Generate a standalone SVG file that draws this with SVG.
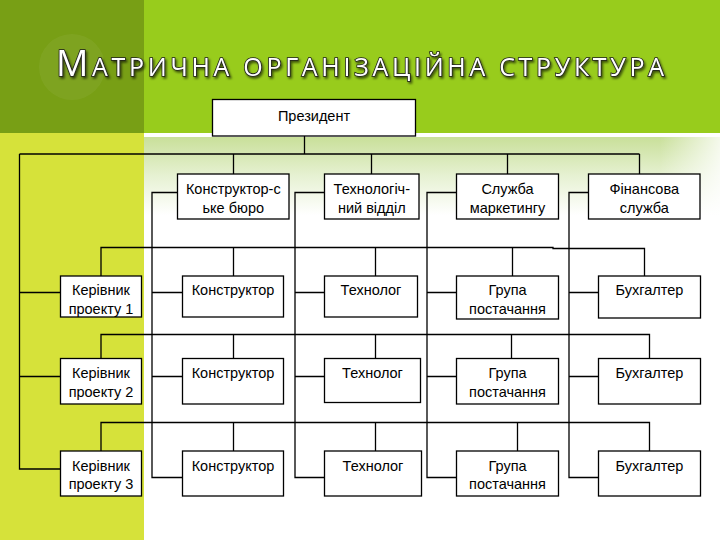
<svg xmlns="http://www.w3.org/2000/svg" width="720" height="540" viewBox="0 0 720 540">
<defs>
  <linearGradient id="bgGrad" x1="0" y1="136" x2="0" y2="215" gradientUnits="userSpaceOnUse">
    <stop offset="0" stop-color="#c8df98"/>
    <stop offset="0.5" stop-color="#e6f1d2"/>
    <stop offset="1" stop-color="#ffffff"/>
  </linearGradient>
  <linearGradient id="edgeGrad" x1="660" y1="0" x2="720" y2="0" gradientUnits="userSpaceOnUse">
    <stop offset="0" stop-color="#ffffff" stop-opacity="0"/>
    <stop offset="1" stop-color="#ffffff" stop-opacity="0.8"/>
  </linearGradient>
  <filter id="shadow" x="-5%" y="-30%" width="110%" height="160%">
    <feDropShadow dx="1.5" dy="2" stdDeviation="1.2" flood-color="#000000" flood-opacity="0.6"/>
  </filter>
  <style>
    .box { fill: #ffffff; stroke: #000000; stroke-width: 1.3; }
    .lbl { font-family: "Liberation Sans", Arial, sans-serif; font-size: 14.5px; fill: #000000; text-anchor: middle; }
    .conn { fill: none; stroke: #000000; stroke-width: 1.3; }
    .title { font-family: "Open Sans", "DejaVu Sans", sans-serif; fill: #ffffff; stroke: #1e1e1e; stroke-width: 1.6; paint-order: stroke; }
  </style>
</defs>

<!-- background -->
<g id="background">
  <rect x="0" y="0" width="144" height="133" fill="#789f15"/>
  <rect x="144" y="0" width="576" height="133" fill="#98cc1c"/>
  <circle cx="72" cy="67" r="33" fill="#ffffff" fill-opacity="0.05"/>
  <rect x="0" y="133" width="144" height="407" fill="#d6e23a"/>
  <rect x="144" y="133" width="576" height="4" fill="#ffffff"/>
  <rect x="144" y="137" width="576" height="403" fill="url(#bgGrad)"/>
  <rect x="660" y="137" width="60" height="80" fill="url(#edgeGrad)"/>
</g>

<g id="title" filter="url(#shadow)">
  <text class="title" x="56" y="76" textLength="608" lengthAdjust="spacing"><tspan font-size="36">М</tspan><tspan font-size="25">АТРИЧНА ОРГАНІЗАЦІЙНА СТРУКТУРА</tspan></text>
</g>

<!-- connectors -->
<g id="connectors" class="conn">
  <path d="M304.5 136 V154"/>
  <path d="M19.5 154 H639.5"/>
  <path d="M233.5 154 V174 M371.5 154 V174 M507.5 154 V174 M639.5 154 V174"/>
  <!-- president to project managers -->
  <path d="M19.5 154 V469 H60.5 M19.5 292.5 H60.5 M19.5 376.5 H60.5"/>
  <!-- department verticals -->
  <path d="M177.5 192.5 H152 V477.5 H182.5 M152 292.5 H182.5 M152 376.5 H182.5"/>
  <path d="M324.5 192.5 H295 V477.5 H324.5 M295 292.5 H324.5 M295 376.5 H324.5"/>
  <path d="M456.5 192.5 H427 V477.5 H456.5 M427 292.5 H456.5 M427 376.5 H456.5"/>
  <path d="M588.5 192.5 H569 V477.5 H598.5 M569 292.5 H598.5 M569 376.5 H598.5"/>
  <!-- project rows -->
  <path d="M101 276 V247.5 H553 V248.5 H644.5 V276 M233.5 247.5 V276 M375.5 247.5 V276 M512.5 247.5 V276"/>
  <path d="M101 358.5 V334.5 H649.5 V358.5 M233.5 334.5 V358.5 M375.5 334.5 V358.5 M511.5 334.5 V358.5"/>
  <path d="M101 451 V422.5 H649.5 V451 M233.5 422.5 V451 M375.5 422.5 V451 M517.5 422.5 V451"/>
</g>

<!-- nodes -->
<g id="president">
  <rect class="box" x="212.5" y="99.5" width="203" height="36.5"/>
  <text class="lbl" x="314" y="120.5">Президент</text>
</g>

<g id="dept-design">
  <rect class="box" x="177.5" y="174" width="111.5" height="45"/>
  <text class="lbl" x="233.3" y="193.5">Конструктор-с</text>
  <text class="lbl" x="233.3" y="212.5">ьке бюро</text>
</g>
<g id="dept-tech">
  <rect class="box" x="324.5" y="174" width="94.5" height="45"/>
  <text class="lbl" x="371.8" y="193.5">Технологіч-</text>
  <text class="lbl" x="371.8" y="212.5">ний відділ</text>
</g>
<g id="dept-marketing">
  <rect class="box" x="456.5" y="174" width="102" height="45"/>
  <text class="lbl" x="507.5" y="193.5">Служба</text>
  <text class="lbl" x="507.5" y="212.5">маркетингу</text>
</g>
<g id="dept-finance">
  <rect class="box" x="588.5" y="174" width="111.5" height="45"/>
  <text class="lbl" x="644.3" y="193.5">Фінансова</text>
  <text class="lbl" x="644.3" y="212.5">служба</text>
</g>

<!-- row 1 -->
<g id="pm1">
  <rect class="box" x="60.5" y="276" width="81" height="41"/>
  <text class="lbl" x="101" y="295">Керівник</text>
  <text class="lbl" x="101" y="313.5">проекту 1</text>
</g>
<g id="designer1">
  <rect class="box" x="182.5" y="276" width="101" height="41"/>
  <text class="lbl" x="233" y="295">Конструктор</text>
</g>
<g id="tech1">
  <rect class="box" x="324.5" y="276" width="93" height="41"/>
  <text class="lbl" x="371" y="295">Технолог</text>
</g>
<g id="supply1">
  <rect class="box" x="456.5" y="276" width="102" height="43"/>
  <text class="lbl" x="507.5" y="295">Група</text>
  <text class="lbl" x="507.5" y="313.5">постачання</text>
</g>
<g id="accountant1">
  <rect class="box" x="598.5" y="276" width="102" height="42"/>
  <text class="lbl" x="649.5" y="295">Бухгалтер</text>
</g>

<!-- row 2 -->
<g id="pm2">
  <rect class="box" x="60.5" y="358.5" width="81" height="45.5"/>
  <text class="lbl" x="101" y="378">Керівник</text>
  <text class="lbl" x="101" y="396.5">проекту 2</text>
</g>
<g id="designer2">
  <rect class="box" x="182.5" y="358.5" width="101" height="45.5"/>
  <text class="lbl" x="233" y="378">Конструктор</text>
</g>
<g id="tech2">
  <rect class="box" x="324.5" y="358.5" width="96" height="44"/>
  <text class="lbl" x="372.5" y="378">Технолог</text>
</g>
<g id="supply2">
  <rect class="box" x="456.5" y="358.5" width="102" height="45.5"/>
  <text class="lbl" x="507.5" y="378">Група</text>
  <text class="lbl" x="507.5" y="396.5">постачання</text>
</g>
<g id="accountant2">
  <rect class="box" x="598.5" y="358.5" width="102" height="45.5"/>
  <text class="lbl" x="649.5" y="378">Бухгалтер</text>
</g>

<!-- row 3 -->
<g id="pm3">
  <rect class="box" x="60.5" y="451" width="81" height="45"/>
  <text class="lbl" x="101" y="470.5">Керівник</text>
  <text class="lbl" x="101" y="489">проекту 3</text>
</g>
<g id="designer3">
  <rect class="box" x="182.5" y="451" width="101" height="45"/>
  <text class="lbl" x="233" y="470.5">Конструктор</text>
</g>
<g id="tech3">
  <rect class="box" x="324.5" y="451" width="97" height="45"/>
  <text class="lbl" x="373" y="470.5">Технолог</text>
</g>
<g id="supply3">
  <rect class="box" x="456.5" y="451" width="102" height="45"/>
  <text class="lbl" x="507.5" y="470.5">Група</text>
  <text class="lbl" x="507.5" y="489">постачання</text>
</g>
<g id="accountant3">
  <rect class="box" x="598.5" y="451" width="102" height="45"/>
  <text class="lbl" x="649.5" y="470.5">Бухгалтер</text>
</g>
</svg>
